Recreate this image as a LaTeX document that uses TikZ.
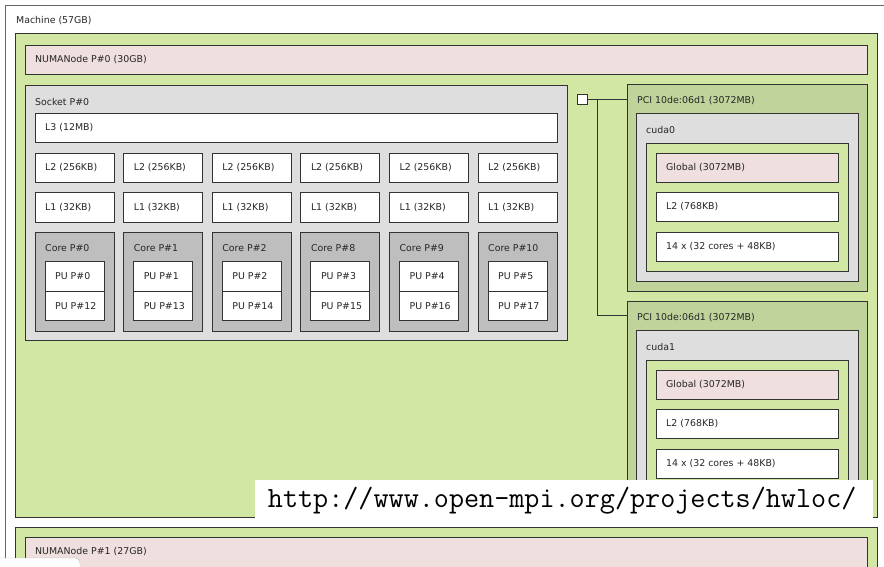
\documentclass[tikz,border=0pt]{standalone}
\usepackage{fontspec}
\setmainfont{DejaVu Sans}
\newcommand{\lab}{\fontsize{9.4}{11}\selectfont}
\definecolor{numa}{HTML}{EFDFDE}
\definecolor{grp}{HTML}{D2E7A4}
\definecolor{sock}{HTML}{DEDEDE}
\definecolor{corec}{HTML}{BEBEBE}
\definecolor{pcic}{HTML}{BFD39A}
\definecolor{edge}{HTML}{333333}
\tikzset{
 bx/.style={draw=edge, line width=0.9pt, anchor=north west, inner sep=0pt, outer sep=0pt, font=\lab},
 tl/.style={anchor=west, inner sep=0pt, font=\lab, text=black!85},
 wire/.style={draw=edge, line width=0.9pt},
}
\newcommand{\tbox}[7]{\node[bx, fill=#6, minimum width=#4, minimum height=#5] (#1) at (#2,#3) {};
  \node[tl] (#1-t) at ([xshift=10]#1.west) {#7};}
\newcommand{\topbox}[7]{\node[bx, fill=#6, minimum width=#4, minimum height=#5] (#1) at (#2,#3) {};
  \node[tl] (#1-t) at ([xshift=10,yshift=-16.5]#1.north west) {#7};}
\begin{document}
\begin{tikzpicture}[x=1pt,y=-1pt]
\useasboundingbox (0,0) rectangle (884,567);
\clip (0,0) rectangle (884,567);
\fill[white] (0,0) rectangle (884,567);
\node[bx, draw=black!60, fill=white, minimum width=900, minimum height=620] (machine) at (5,5) {};
\node[tl] (machine-t) at ([xshift=11,yshift=-16]machine.north west) {Machine (57GB)};
\node[bx, fill=grp, minimum width=862, minimum height=484] (g0) at (15,33) {};
\tbox{numa0}{25}{45}{842}{29}{numa}{NUMANode P\#0 (30GB)}
\topbox{sock}{25}{85}{542}{255}{sock}{Socket P\#0}
\tbox{l3}{35}{113}{522}{29}{white}{L3 (12MB)}
\foreach \i/\c/\pa/\pb in {0/0/0/12,1/1/1/13,2/2/2/14,3/8/3/15,4/9/4/16,5/10/5/17}{
  \pgfmathsetmacro\xx{35+88.6*\i}
  \tbox{l2-\i}{\xx}{153}{79}{29}{white}{L2 (256KB)}
  \tbox{l1-\i}{\xx}{192.5}{79}{29.5}{white}{L1 (32KB)}
  \topbox{core-\i}{\xx}{232}{79}{99}{corec}{Core P\#\c}
  \tbox{pua-\i}{\xx+10}{261}{59}{30}{white}{PU P\#\pa}
  \tbox{pub-\i}{\xx+10}{291}{59}{29.5}{white}{PU P\#\pb}
}
\node[bx, fill=white, minimum width=10, minimum height=10] (sq) at (577,94) {};
\coordinate (jn) at (597,99);
\foreach \k/\dy in {0/0,1/217}{
  \topbox{pci\k}{627}{84+\dy}{240}{207}{pcic}{PCI 10de:06d1 (3072MB)}
  \topbox{cuda\k}{636}{113+\dy}{222}{168}{sock}{cuda\k}
  \node[bx, fill=grp, minimum width=202, minimum height=128] (cg\k) at (646,143+\dy) {};
  \tbox{glob\k}{656}{153+\dy}{182}{29.5}{numa}{Global (3072MB)}
  \tbox{l2g\k}{656}{192+\dy}{182}{29.5}{white}{L2 (768KB)}
  \tbox{sm\k}{656}{232+\dy}{182}{29.5}{white}{14 x (32 cores + 48KB)}
}
\draw[wire] (sq.east) -- (sq.east -| pci0.west);
\draw[wire] (jn) |- ([yshift=-14]pci1.north west);
\node[bx, fill=grp, minimum width=862, minimum height=100] (g1) at (15,527) {};
\node[bx, fill=numa, minimum width=842, minimum height=60] (numa1) at (25,537) {};
\node[tl] (numa1-t) at ([xshift=10,yshift=-15]numa1.north west) {NUMANode P\#1 (27GB)};
\node[fill=white, anchor=north west, inner sep=0pt, minimum width=618, minimum height=40] (url) at (255,480) {};
\node[inner sep=0pt, font=\ttfamily\fontsize{29.3}{31}\selectfont] (urlt) at ([xshift=-2]url.center) {http://www.open-mpi.org/projects/hwloc/};
\draw[black!25, fill=white, rounded corners=5] (-5,558) rectangle (80,580);
\end{tikzpicture}
\end{document}
